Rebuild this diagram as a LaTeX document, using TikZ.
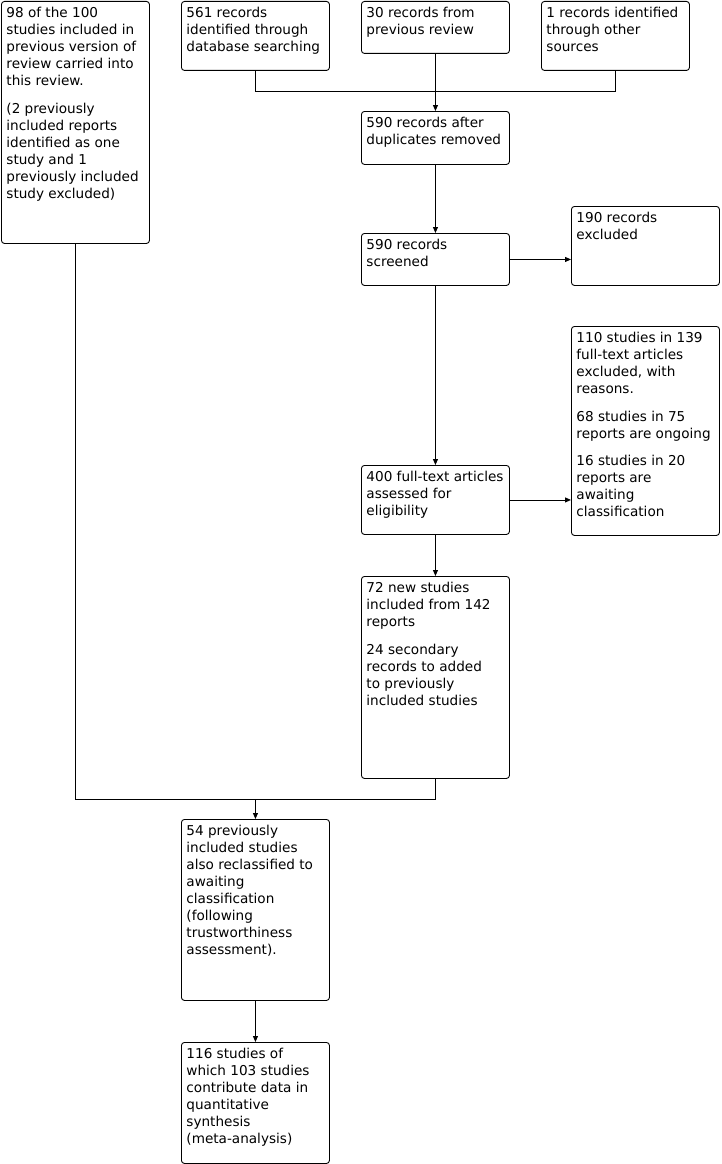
\documentclass[tikz,border=0pt]{standalone}
\usepackage{fontspec}
\setmainfont{DejaVu Sans}
\usetikzlibrary{arrows.meta}
\newcommand\bt[3]{\begin{minipage}[b][#2][t]{#1}\fontsize{13.6pt}{17pt}\selectfont\leftskip=5pt\rightskip=0pt plus 1fil\parindent=0pt\rule{0pt}{16pt}#3\end{minipage}}
\begin{document}
\begin{tikzpicture}[x=1pt,y=-1pt,
  box/.style={draw,rounded corners=3pt,inner sep=0pt,anchor=north west,line width=0.9pt},
  conn/.style={line width=0.9pt},
  arr/.style={conn,-{Triangle[length=6pt,width=5pt]}}]
\useasboundingbox (0,0) rectangle (722,1164);
\node[box] (A) at (1,1) {\bt{148pt}{242pt}{98 of the 100\\studies included in\\previous version of\\review carried into\\this review.\\[10.7pt](2 previously\\included reports\\identified as one\\study and 1\\previously included\\study excluded)}};
\node[box] (B) at (181,1) {\bt{148pt}{69pt}{561 records\\identified through\\database searching}};
\node[box] (C) at (361,1) {\bt{148pt}{52pt}{30 records from\\previous review}};
\node[box] (D) at (541,1) {\bt{148pt}{69pt}{1 records identified\\through other\\sources}};
\node[box] (E) at (361,111) {\bt{148pt}{53pt}{590 records after\\duplicates removed}};
\node[box] (F) at (361,233) {\bt{148pt}{52pt}{590 records\\screened}};
\node[box] (G) at (571,206) {\bt{148pt}{79pt}{190 records\\excluded}};
\node[box] (H) at (571,326) {\bt{148pt}{209pt}{110 studies in 139\\full-text articles\\excluded, with\\reasons.\\[10.7pt]68 studies in 75\\reports are ongoing\\[10.7pt]16 studies in 20\\reports are\\awaiting\\classification}};
\node[box] (I) at (361,465) {\bt{148pt}{69pt}{400 full-text articles\\assessed for\\eligibility}};
\node[box] (J) at (361,576) {\bt{148pt}{202pt}{72 new studies\\included from 142\\reports\\[10.7pt]24 secondary\\records to added\\to previously\\included studies}};
\node[box] (K) at (181,819) {\bt{148pt}{181pt}{54 previously\\included studies\\also reclassified to\\awaiting\\classification\\(following\\trustworthiness\\assessment).}};
\node[box] (L) at (181,1042) {\bt{148pt}{121pt}{116 studies of\\which 103 studies\\contribute data in\\quantitative\\synthesis\\(meta-analysis)}};
\coordinate (j1) at (435,91);
\coordinate (j2) at (255,799);
\draw[conn] (B.south) -- (B.south |- j1) -- (D.south |- j1) -- (D.south);
\draw[arr] (C.south) -- (E.north);
\draw[arr] (E.south) -- (F.north);
\draw[arr] (F.east) -- (G.west |- F.east);
\draw[arr] (F.south) -- (I.north);
\draw[arr] (I.east) -- (H.west |- I.east);
\draw[arr] (I.south) -- (J.north);
\draw[conn] (A.south) -- (A.south |- j2) -- (J.south |- j2) -- (J.south);
\draw[arr] (K.north |- j2) -- (K.north);
\draw[arr] (K.south) -- (L.north);
\end{tikzpicture}
\end{document}
